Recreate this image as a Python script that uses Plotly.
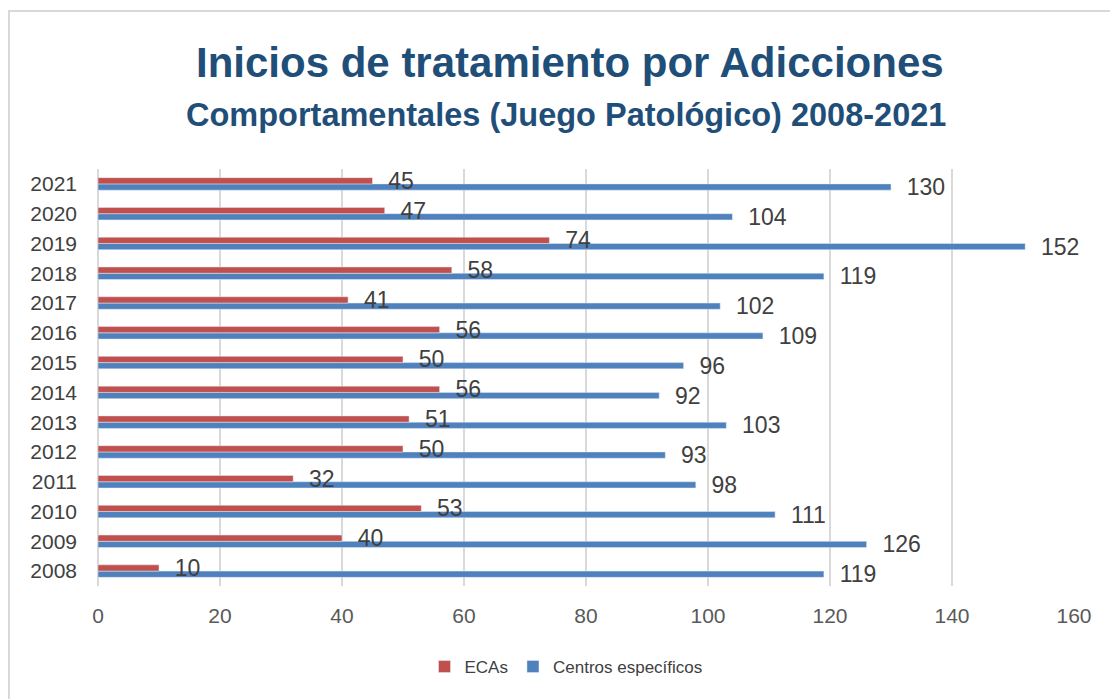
import plotly.graph_objects as go

years = [str(y) for y in range(2008, 2022)]
ecas = [10, 40, 53, 32, 50, 51, 56, 50, 56, 41, 58, 74, 47, 45]
centros = [119, 126, 111, 98, 93, 103, 92, 96, 109, 102, 119, 152, 104, 130]
x_ticks = [0, 20, 40, 60, 80, 100, 120, 140, 160]

W, H = 1110, 699
ML, MR, MT, MB = 98, 36, 169, 113
pw, ph = W - ML - MR, H - MT - MB

def px(x):
    return (x - ML) / pw

def py(y):
    return (H - MB - y) / ph

label_font = dict(family="Liberation Sans, Arial", size=23, color="#404040")
title_font = "Liberation Sans, Arial"

fig = go.Figure()

# blue first so it sits below the red bar in each group
fig.add_trace(go.Bar(y=years, x=centros, orientation="h", name="Centros específicos",
                     marker_color="#4F81BD", texttemplate="  %{x}",
                     textposition="outside", constraintext="none",
                     textfont=label_font, cliponaxis=False))
fig.add_trace(go.Bar(y=years, x=ecas, orientation="h", name="ECAs",
                     marker_color="#C0504D", texttemplate="  %{x}",
                     textposition="outside", constraintext="none",
                     textfont=label_font, cliponaxis=False))

fig.add_annotation(text="<b>Inicios de tratamiento por Adicciones</b>",
                   xref="paper", yref="paper", x=px(570), y=py(62),
                   xanchor="center", yanchor="middle",
                   showarrow=False, font=dict(family=title_font, size=42, color="#1F4E79"))
fig.add_annotation(text="<b>Comportamentales (Juego Patológico) 2008-2021</b>",
                   xref="paper", yref="paper", x=px(566), y=py(115),
                   xanchor="center", yanchor="middle",
                   showarrow=False, font=dict(family=title_font, size=32.5, color="#1F4E79"))

# chart frame
fig.add_shape(type="rect", xref="paper", yref="paper",
              x0=px(9), y0=py(H + 20), x1=px(W + 20), y1=py(11),
              line=dict(color="#D9D9D9", width=2), layer="below")

fig.update_layout(
    width=W, height=H,
    margin=dict(l=ML, r=MR, t=MT, b=MB),
    paper_bgcolor="white", plot_bgcolor="white",
    barmode="group", bargap=0.58, bargroupgap=0,
    showlegend=True,
    legend=dict(orientation="h", x=px(566), y=py(667), xanchor="center", yanchor="middle",
                traceorder="reversed",
                font=dict(family="Liberation Sans, Arial", size=17, color="#404040")),
    xaxis=dict(range=[0, 160], tickvals=x_ticks, showgrid=True, gridcolor="#D9D9D9",
               gridwidth=2, zeroline=True, zerolinecolor="#D9D9D9", zerolinewidth=2,
               showline=False, ticks="", ticklabelstandoff=15,
               tickfont=dict(family="Liberation Sans, Arial", size=21, color="#595959")),
    yaxis=dict(type="category", showgrid=False, zeroline=False, showline=False,
               ticks="", ticklabelstandoff=20,
               tickfont=dict(family="Liberation Sans, Arial", size=21, color="#404040")),
)

fig.write_html("out.html", config={"displayModeBar": False},
               post_script="document.body.style.margin='0';")
